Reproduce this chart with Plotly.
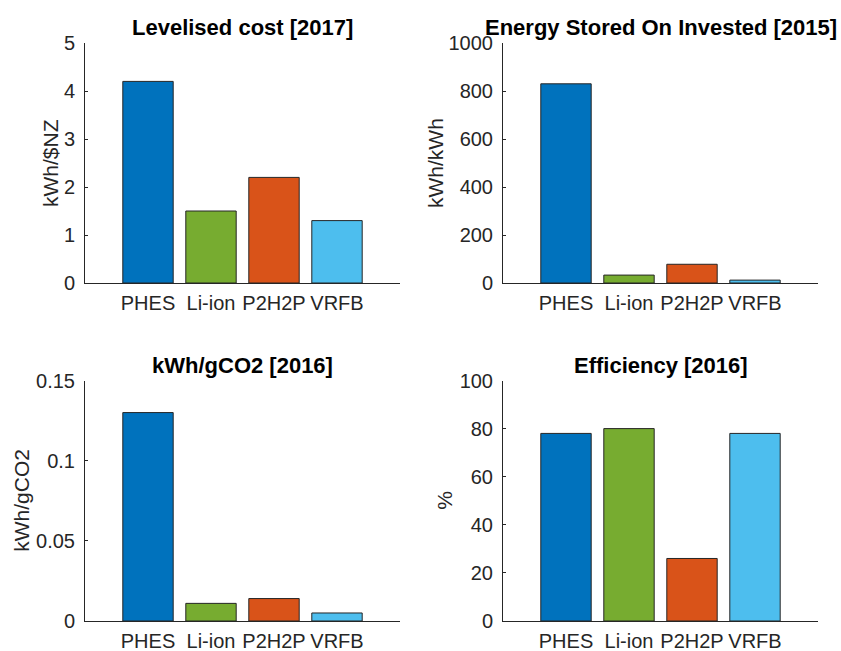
import plotly.graph_objects as go

W, H = 841, 651

categories = ["PHES", "Li-ion", "P2H2P", "VRFB"]
bar_colors = ["#0072BD", "#77AC30", "#D95319", "#4DBEEE"]

levelised_cost = [4.2, 1.5, 2.2, 1.3]
esoi = [830, 33, 78, 12]
kwh_per_gco2 = [0.13, 0.011, 0.014, 0.005]
efficiency = [78, 80, 26, 78]

titles = ["Levelised cost [2017]", "Energy Stored On Invested [2015]",
          "kWh/gCO2 [2016]", "Efficiency [2016]"]
ylabels = ["kWh/$NZ", "kWh/kWh", "kWh/gCO2", "%"]
yranges = [[0, 5], [0, 1000], [0, 0.15], [0, 100]]
ytickvals = [[0, 1, 2, 3, 4, 5],
             [0, 200, 400, 600, 800, 1000],
             [0, 0.05, 0.1, 0.15],
             [0, 20, 40, 60, 80, 100]]
yticktext = [["0", "1", "2", "3", "4", "5"],
             ["0", "200", "400", "600", "800", "1000"],
             ["0", "0.05", "0.1", "0.15"],
             ["0", "20", "40", "60", "80", "100"]]
series = [levelised_cost, esoi, kwh_per_gco2, efficiency]

# pixel boxes (left, right, top, bottom)
boxes = [(85, 400, 43, 283), (503, 818, 43, 283),
         (85, 400, 380.5, 621), (503, 818, 380.5, 621)]
ylabel_x = [50, 435, 22, 445]
title_y = [27, 27, 365, 365]

INK = "#262626"
FONT = "Liberation Sans, Arial, sans-serif"

fig = go.Figure()
layout = dict(
    width=W, height=H,
    template="none",
    margin=dict(l=0, r=0, t=0, b=0, pad=0, autoexpand=False),
    paper_bgcolor="white", plot_bgcolor="white",
    showlegend=False,
    font=dict(family=FONT, color=INK, size=20),
    annotations=[],
)

for i in range(4):
    n = "" if i == 0 else str(i + 1)
    L, R, T, B = boxes[i]
    fig.add_trace(go.Bar(
        x=categories, y=series[i], width=0.8,
        marker=dict(color=bar_colors, line=dict(color=INK, width=1)),
        xaxis="x" + n, yaxis="y" + n,
    ))
    layout["xaxis" + n] = dict(
        domain=[L / W, R / W], anchor="y" + n,
        type="category", range=[-1, 4], automargin=False,
        showline=True, linecolor=INK, linewidth=1,
        ticks="", showgrid=False, zeroline=False,
        tickfont=dict(size=20, color=INK, family=FONT),
        ticklabelstandoff=2,
    )
    layout["yaxis" + n] = dict(
        domain=[1 - B / H, 1 - T / H], anchor="x" + n, automargin=False,
        range=yranges[i], tickvals=ytickvals[i], ticktext=yticktext[i],
        showline=True, linecolor=INK, linewidth=1,
        ticks="inside", ticklen=3, tickcolor=INK, tickwidth=1,
        showgrid=False, zeroline=False,
        tickfont=dict(size=20, color=INK, family=FONT),
        ticklabelstandoff=5,
    )
    layout["annotations"].append(dict(
        text="<b>" + titles[i] + "</b>", x=(L + R) / 2 / W, y=1 - title_y[i] / H,
        xref="paper", yref="paper", xanchor="center", yanchor="middle",
        showarrow=False, font=dict(size=22, color="black", family=FONT),
    ))
    layout["annotations"].append(dict(
        text=ylabels[i], x=ylabel_x[i] / W, y=1 - (T + B) / 2 / H,
        xref="paper", yref="paper", xanchor="center", yanchor="middle",
        textangle=-90, showarrow=False,
        font=dict(size=21, color=INK, family=FONT),
    ))

fig.update_layout(**layout)
fig.write_html("out.html",
               config={"displayModeBar": False},
               post_script="document.body.style.margin='0';document.body.style.overflow='hidden';")
